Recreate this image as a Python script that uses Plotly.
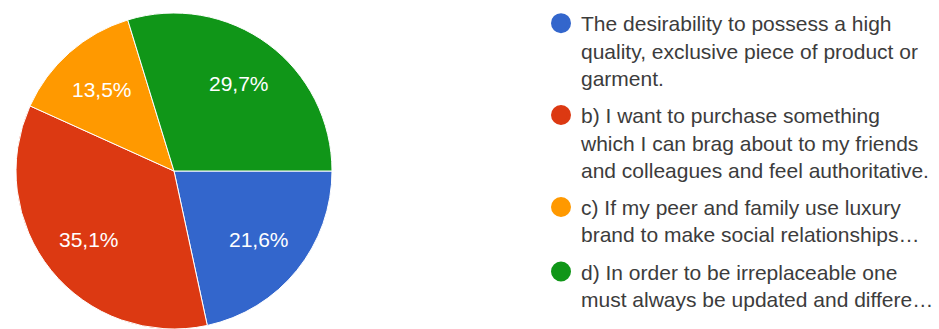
import math
import plotly.graph_objects as go

labels = [
    "The desirability to possess a high<br>quality, exclusive piece of product or<br>garment.",
    "b) I want to purchase something<br>which I can brag about to my friends<br>and colleagues and feel authoritative.",
    "c) If my peer and family use luxury<br>brand to make social relationships…",
    "d) In order to be irreplaceable one<br>must always be updated and differe…",
]
counts = [8, 13, 5, 11]
colors = ["#3366CC", "#DC3912", "#FF9900", "#109618"]

FONT = "Liberation Sans, Arial, sans-serif"
W, H = 939, 329
ROTATION = 90
PIE_X = [15 / W, 333 / W]
PIE_Y = [0, 316 / H]
LABEL_R = 0.69  # fraction of radius where percentage labels sit

fig = go.Figure()
fig.add_trace(go.Pie(
    labels=labels,
    values=counts,
    sort=False,
    direction="clockwise",
    rotation=ROTATION,
    marker=dict(colors=colors, line=dict(color="white", width=1)),
    textinfo="none",
    domain=dict(x=PIE_X, y=PIE_Y),
    showlegend=False,
    hoverinfo="label+percent",
))

# percentage labels placed along each slice bisector (derived from the data)
total = sum(counts)
cx_px = (PIE_X[0] + PIE_X[1]) / 2 * W
cy_px = H - (PIE_Y[0] + PIE_Y[1]) / 2 * H
radius = min((PIE_X[1] - PIE_X[0]) * W, (PIE_Y[1] - PIE_Y[0]) * H) / 2
cum = 0
for c in counts:
    mid = math.radians(ROTATION + 360 * (cum + c / 2) / total)
    cum += c
    px = cx_px + LABEL_R * radius * math.sin(mid)
    py = cy_px - LABEL_R * radius * math.cos(mid)
    pct = f"{100 * c / total:.1f}".replace(".", ",") + "%"
    fig.add_annotation(
        x=px / W, y=1 - py / H, xref="paper", yref="paper",
        text=pct, showarrow=False,
        font=dict(family=FONT, size=21, color="white"),
        xanchor="center", yanchor="middle",
    )

for i, (lab, col) in enumerate(zip(labels, colors)):
    fig.add_trace(go.Scatter(
        x=[None], y=[None], mode="markers", name=lab,
        marker=dict(color=col, size=16, symbol="circle",
                    line=dict(color=col, width=4)),
        legendgroup=f"g{i}", showlegend=True,
    ))

fig.update_layout(
    width=W, height=H,
    margin=dict(l=0, r=0, t=0, b=0),
    paper_bgcolor="white", plot_bgcolor="white",
    xaxis=dict(visible=False, domain=[0.99, 1]),
    yaxis=dict(visible=False),
    legend=dict(
        x=541 / W, y=1 - 3 / H, xanchor="left", yanchor="top",
        font=dict(family=FONT, size=21, color="#3c3c3c"),
        valign="top", tracegroupgap=7,
        bgcolor="rgba(0,0,0,0)",
    ),
)

fig.write_html("out.html")
